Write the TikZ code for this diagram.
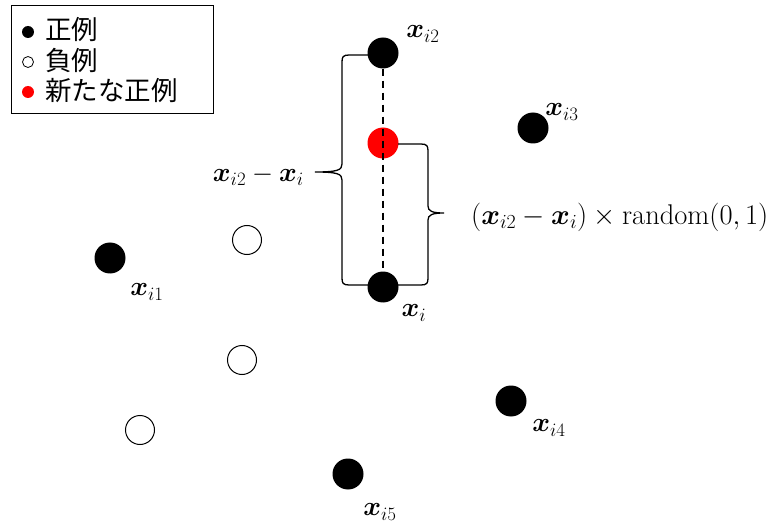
\RequirePackage{fix-cm}
\documentclass[tikz,border=0pt]{standalone}
\usepackage{amsmath,bm}
\usepackage{fontspec}
\newfontfamily\jpfont{Noto Sans CJK JP}
\begin{document}
\begin{tikzpicture}[x=1pt,y=-1pt,
  posdot/.style={circle,fill=black,minimum size=31pt,inner sep=0pt},
  negdot/.style={circle,draw=black,fill=white,line width=1pt,minimum size=29pt,inner sep=0pt},
  newdot/.style={circle,fill=red,minimum size=31pt,inner sep=0pt},
  lab/.style={inner sep=0pt,font=\fontsize{27}{31}\selectfont},
  legdot/.style={circle,minimum size=12pt,inner sep=0pt},
  legtxt/.style={anchor=west,inner sep=0pt,font=\jpfont\fontsize{26.5}{30}\selectfont},
  bracestyle/.style={line width=1.3pt}]
\useasboundingbox (0,0) rectangle (772,524);
% legend
\node[draw=black,line width=1pt,minimum width=202pt,minimum height=108pt,anchor=north west,inner sep=0pt] (legend) at (11,5) {};
\node[legdot,fill=black] (l1) at (28,32) {};
\node[legdot,draw=black,line width=0.8pt,fill=white,minimum size=11pt] (l2) at (28,62) {};
\node[legdot,fill=red] (l3) at (28,92) {};
\node[legtxt] (t1) at (45,30) {正例};
\node[legtxt] (t2) at (45,60) {負例};
\node[legtxt] (t3) at (45,91) {新たな正例};
% points
\node[posdot] (xi2) at (383,53) {};
\node[newdot] (xn) at (383,143) {};
\node[posdot] (xi) at (383,287) {};
\node[posdot] (xi3) at (533,128) {};
\node[posdot] (xi1) at (110,258) {};
\node[posdot] (xi4) at (511,401) {};
\node[posdot] (xi5) at (348,474) {};
\node[negdot] (n1) at (247,240) {};
\node[negdot] (n2) at (242,360) {};
\node[negdot] (n3) at (140,430) {};
% labels
\node[lab] (lxi2) at (423,34) {$\boldsymbol{x}_{i2}$};
\node[lab] (lxi) at (414,313) {$\boldsymbol{x}_{i}$};
\node[lab] (lxi3) at (562,112) {$\boldsymbol{x}_{i3}$};
\node[lab] (lxi1) at (147,292) {$\boldsymbol{x}_{i1}$};
\node[lab] (lxi4) at (549,428) {$\boldsymbol{x}_{i4}$};
\node[lab] (lxi5) at (380,512) {$\boldsymbol{x}_{i5}$};
% dashed line
\draw[line width=1.3pt,dash pattern=on 7pt off 5pt] (xi2) -- (xi);
% left brace
\coordinate (ltip) at (315,172);
\draw[bracestyle] (368,55) -- (349,55) .. controls (343,55) and (342,57) .. (342,62) -- (342,164)
  .. controls (342,170) and (338,172) .. (ltip)
  .. controls (338,172) and (342,174) .. (342,180) -- (342,278)
  .. controls (342,283) and (343,285) .. (349,285) -- (368,285);
\node[lab,anchor=east] (lbl1) at (304,176) {$\boldsymbol{x}_{i2}-\boldsymbol{x}_{i}$};
% right brace
\coordinate (rtip) at (444,213);
\draw[bracestyle] (398,144) -- (421,144) .. controls (427,144) and (428,146) .. (428,151) -- (428,206)
  .. controls (428,211) and (432,213) .. (rtip)
  .. controls (432,213) and (428,215) .. (428,220) -- (428,278)
  .. controls (428,283) and (427,285) .. (421,285) -- (398,285);
\node[lab,anchor=west,font=\fontsize{28.5}{32}\selectfont] (lbl2) at (471,217) {$(\boldsymbol{x}_{i2}-\boldsymbol{x}_{i})\times\mathrm{random}(0,1)$};
\end{tikzpicture}
\end{document}
